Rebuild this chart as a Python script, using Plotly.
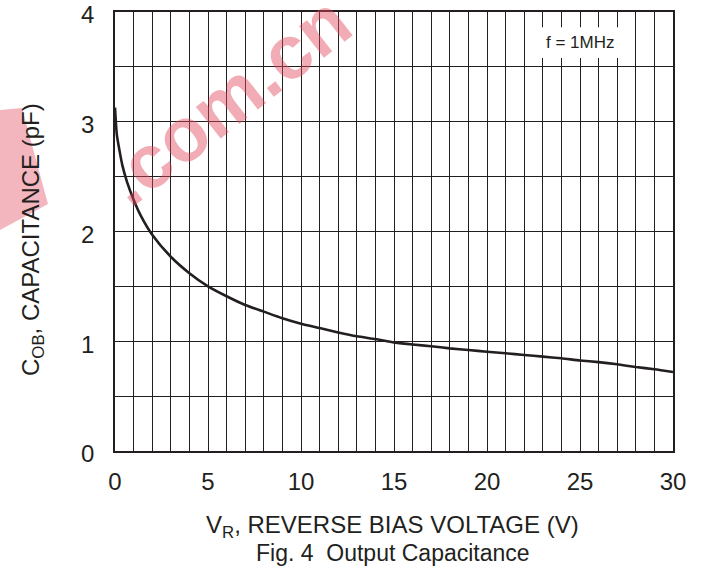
import plotly.graph_objects as go

# Data
voltage_v = [0, 0.1, 0.25, 0.4, 0.65, 1, 1.4, 2, 3, 4, 5, 6, 7, 8, 9, 10,
             11, 12, 13, 14, 15, 16, 17, 18, 19, 20, 21, 22, 23, 24, 25,
             26, 27, 28, 29, 30]
capacitance_pf = [3.13, 2.88, 2.73, 2.60, 2.45, 2.29, 2.14, 1.97, 1.77, 1.62,
                  1.50, 1.41, 1.33, 1.27, 1.21, 1.16, 1.12, 1.08, 1.045, 1.02,
                  0.99, 0.97, 0.955, 0.935, 0.92, 0.905, 0.89, 0.875, 0.86,
                  0.845, 0.825, 0.81, 0.79, 0.765, 0.745, 0.72]
x_tick_vals = [0, 5, 10, 15, 20, 25, 30]
y_tick_vals = [0, 1, 2, 3, 4]

INK = "#231f20"
FONT = "Liberation Sans, Arial, sans-serif"

# plot area in pixels (for placing paper-referenced decorations)
L, R, T, B = 115, 673, 12, 451


def px(xp):
    return (xp - L) / (R - L)


def py(yp):
    return (B - yp) / (B - T)


fig = go.Figure()
fig.add_trace(go.Scatter(
    x=voltage_v, y=capacitance_pf, mode="lines",
    line=dict(color=INK, width=2.6, shape="spline", smoothing=0.6),
    hoverinfo="skip", showlegend=False,
))

# White box behind the frequency label
fig.add_shape(type="rect", x0=22.5, x1=27.5, y0=3.58, y1=3.86,
              xref="x", yref="y", fillcolor="white", line=dict(width=0),
              layer="above")
fig.add_annotation(x=25, y=3.72, xref="x", yref="y", text="f = 1MHz",
                   showarrow=False, font=dict(size=17, color=INK, family=FONT))

# Watermark: pink stroke at the left edge and ".com.cn" text
pts = [(0, 110), (22, 108), (48, 204), (0, 230)]
path = "M " + " L ".join(f"{px(a):.4f},{py(b):.4f}" for a, b in pts) + " Z"
fig.add_shape(type="path", path=path, xref="paper", yref="paper",
              fillcolor="rgba(232,110,125,0.5)", line=dict(width=0),
              layer="below")
fig.add_annotation(x=px(226), y=py(100), xref="paper", yref="paper",
                   xanchor="center", yanchor="middle", text="<b>.com.cn</b>",
                   showarrow=False, textangle=-38,
                   font=dict(size=76, color="rgba(225,70,90,0.45)", family=FONT))

# Axis titles and caption
fig.add_annotation(x=px(392), y=py(526), xref="paper", yref="paper",
                   xanchor="center", yanchor="middle",
                   text="V<sub>R</sub>, REVERSE BIAS VOLTAGE (V)", showarrow=False,
                   font=dict(size=24, color=INK, family=FONT))
fig.add_annotation(x=px(393), y=py(553), xref="paper", yref="paper",
                   xanchor="center", yanchor="middle",
                   text="Fig. 4  Output Capacitance", showarrow=False,
                   font=dict(size=23, color=INK, family=FONT))
fig.add_annotation(x=px(33), y=py(240), xref="paper", yref="paper",
                   xanchor="center", yanchor="middle",
                   text="C<sub>OB</sub>, CAPACITANCE (pF)", showarrow=False,
                   textangle=-90, font=dict(size=24, color=INK, family=FONT))

fig.update_xaxes(
    range=[0, 30], tickvals=x_tick_vals, ticks="", showgrid=True,
    gridcolor=INK, gridwidth=1.2,
    minor=dict(dtick=1, showgrid=True, gridcolor=INK, gridwidth=1.2),
    showline=True, mirror=True, linecolor=INK, linewidth=1.5,
    zeroline=False, ticklabelstandoff=8, automargin=False,
    ticklabeloverflow="allow",
    tickfont=dict(size=24, color=INK, family=FONT), fixedrange=True,
)
fig.update_yaxes(
    range=[0, 4], tickvals=y_tick_vals, ticks="", showgrid=True,
    gridcolor=INK, gridwidth=1.2,
    minor=dict(dtick=0.5, showgrid=True, gridcolor=INK, gridwidth=1.2),
    showline=True, mirror=True, linecolor=INK, linewidth=1.5,
    zeroline=False, ticklabelstandoff=14, ticklabelshift=3, automargin=False,
    ticklabeloverflow="allow",
    tickfont=dict(size=24, color=INK, family=FONT), fixedrange=True,
)

fig.update_layout(
    width=704, height=574,
    margin=dict(l=L, r=704 - R, t=T, b=574 - B, autoexpand=False),
    paper_bgcolor="white", plot_bgcolor="white",
    font=dict(family=FONT, color=INK),
    showlegend=False,
)

fig.write_html("out.html", config={"displayModeBar": False},
               post_script="document.body.style.margin='0';")
